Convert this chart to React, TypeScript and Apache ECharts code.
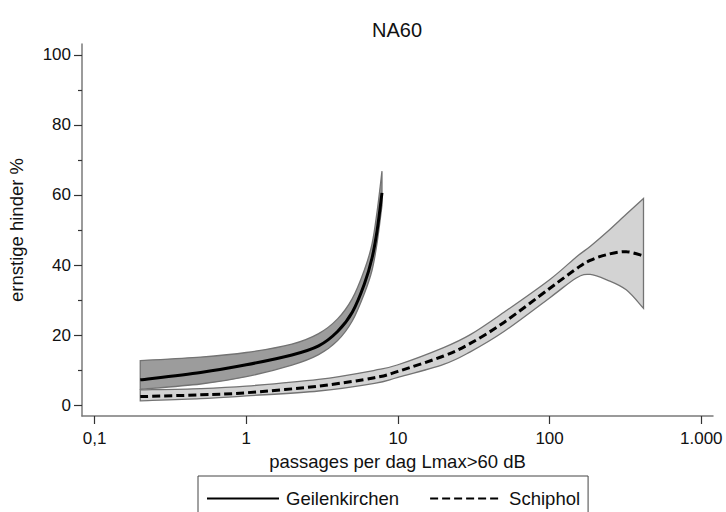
import React, { useEffect, useRef } from "react";
import * as echarts from "echarts";

const FONT = "'Liberation Sans', Arial, Helvetica, sans-serif";

const titleText = "NA60";
const xAxisName = "passages per dag Lmax>60 dB";
const yAxisName = "ernstige hinder %";

const xTicks = [0.1, 1, 10, 100, 1000];
const xTickLabels = ["0,1", "1", "10", "100", "1.000"];
const yTicks = [0, 20, 40, 60, 80, 100];
const yMinorTicks = [10, 30, 50, 70, 90];

const geilName = "Geilenkirchen";
const geilX = [0.2, 0.5, 1, 2, 3, 4, 5, 6, 6.75, 7.3, 7.85];
const geilFit = [7.2, 9.3, 11.5, 14.3, 16.9, 21.0, 26.5, 34.5, 42.0, 50.0, 60.6];
const geilLo = [4.5, 6.0, 8.1, 11.4, 14.4, 18.4, 24.0, 31.8, 38.5, 46.5, 57.0];
const geilHi = [12.7, 13.7, 15.0, 17.4, 20.4, 24.6, 30.4, 38.5, 46.0, 55.5, 66.8];

const schName = "Schiphol";
const schX = [0.2, 0.5, 1, 3, 7, 10, 20, 30, 50, 100, 150, 185, 240, 320, 416];
const schFit = [2.4, 2.9, 3.5, 5.4, 7.8, 9.6, 14.0, 17.6, 23.6, 33.3, 38.9, 41.3, 43.0, 43.8, 42.6];
const schLo = [1.2, 1.8, 2.6, 4.0, 6.2, 7.9, 11.6, 15.2, 21.0, 30.6, 36.3, 37.3, 35.7, 32.9, 27.6];
const schHi = [4.3, 4.7, 5.4, 7.3, 9.9, 11.5, 16.4, 20.1, 26.5, 35.8, 42.3, 45.3, 49.5, 54.5, 59.0];

const BORDER = "#737373";

type Pt = number[];

// Catmull-Rom spline through pixel points (rendering only)
function splinePath(pts: Pt[], moveFirst: boolean) {
  let d = moveFirst ? `M${pts[0][0]},${pts[0][1]}` : `L${pts[0][0]},${pts[0][1]}`;
  const n = pts.length;
  for (let i = 0; i < n - 1; i++) {
    const p0 = pts[Math.max(0, i - 1)];
    const p1 = pts[i];
    const p2 = pts[i + 1];
    const p3 = pts[Math.min(n - 1, i + 2)];
    const c1x = p1[0] + (p2[0] - p0[0]) / 6;
    const c1y = p1[1] + (p2[1] - p0[1]) / 6;
    const c2x = p2[0] - (p3[0] - p1[0]) / 6;
    const c2y = p2[1] - (p3[1] - p1[1]) / 6;
    d += ` C${c1x},${c1y} ${c2x},${c2y} ${p2[0]},${p2[1]}`;
  }
  return d;
}

function bandSeries(id: string, xs: number[], lo: number[], hi: number[], fill: string, z: number) {
  return {
    type: "custom",
    name: id + "_band",
    silent: true,
    z,
    data: xs.map((x, i) => [x, lo[i], hi[i]]),
    encode: { x: 0, y: [1, 2] },
    renderItem: (params: any, api: any) => {
      if (params.dataIndex !== 0) return null;
      const up = xs.map((x, i) => api.coord([x, hi[i]]));
      const dn = xs.map((x, i) => api.coord([x, lo[i]])).reverse();
      const d = splinePath(up, true) + " " + splinePath(dn, false) + " Z";
      return {
        type: "path",
        shape: { pathData: d },
        style: { fill, stroke: BORDER, lineWidth: 1.3 },
      };
    },
  };
}

function lineSeries(name: string, xs: number[], ys: number[], dash: any) {
  return {
    type: "custom",
    name,
    z: 5,
    silent: true,
    data: xs.map((x, i) => [x, ys[i]]),
    encode: { x: 0, y: 1 },
    renderItem: (params: any, api: any) => {
      if (params.dataIndex !== 0) return null;
      const pts = xs.map((x, i) => api.coord([x, ys[i]]));
      return {
        type: "path",
        shape: { pathData: splinePath(pts, true) },
        style: { fill: "none", stroke: "#000", lineWidth: 3, lineDash: dash },
      };
    },
  };
}

function xLabel(v: number) {
  let best = 0;
  let bestD = Infinity;
  xTicks.forEach((t, i) => {
    const d = Math.abs(Math.log10(v) - Math.log10(t));
    if (d < bestD) {
      bestD = d;
      best = i;
    }
  });
  return xTickLabels[best];
}

export default function App() {
  const ref = useRef<HTMLDivElement>(null);
  useEffect(() => {
    if (!ref.current) return;
    const chart = echarts.init(ref.current, null, { renderer: "svg" });
    const option: any = {
      animation: false,
      backgroundColor: "#ffffff",
      textStyle: { fontFamily: FONT },
      title: {
        text: titleText,
        left: 397,
        top: 20,
        textAlign: "center",
        padding: 0,
        textStyle: { fontSize: 20, fontWeight: "normal", color: "#111", fontFamily: FONT },
      },
      grid: { left: 82, right: 13, top: 44, bottom: 96, containLabel: false, outerBoundsMode: "none" },
      legend: {
        data: [geilName, schName],
        left: 198,
        top: 476,
        orient: "horizontal",
        itemWidth: 72,
        itemHeight: 2,
        itemGap: 30,
        padding: [13, 8, 24, 8],
        borderColor: "#444",
        borderWidth: 1,
        backgroundColor: "#fff",
        selectedMode: false,
        itemStyle: { opacity: 0 },
        lineStyle: { width: 2 },
        textStyle: { fontSize: 18.5, color: "#111", fontFamily: FONT, padding: [0, 0, 0, 2] },
      },
      xAxis: {
        type: "log",
        logBase: 10,
        min: 0.0826,
        max: 1195,
        name: xAxisName,
        nameLocation: "middle",
        nameGap: 33,
        nameTextStyle: { fontSize: 18.5, color: "#111", fontFamily: FONT },
        axisLine: { show: true, onZero: false, lineStyle: { color: "#7a7a7a", width: 1.5 } },
        axisTick: { show: true, customValues: xTicks, length: 8, lineStyle: { color: "#333", width: 1.2 } },
        axisLabel: {
          show: true,
          customValues: xTicks,
          formatter: (v: number) => xLabel(v),
          margin: 14,
          fontSize: 17,
          color: "#111",
          fontFamily: FONT,
        },
        splitLine: { show: false },
        minorTick: { show: false },
      },
      yAxis: [
        {
          type: "value",
          position: "left",
          min: -3.14,
          max: 103.14,
          name: yAxisName,
          nameLocation: "middle",
          nameGap: 56,
          nameTextStyle: { fontSize: 18.5, color: "#111", fontFamily: FONT },
          axisLine: { show: true, onZero: false, lineStyle: { color: "#7a7a7a", width: 1.5 } },
          axisTick: { show: true, customValues: yTicks, length: 8, lineStyle: { color: "#333", width: 1.2 } },
          axisLabel: { show: true, customValues: yTicks, margin: 11, fontSize: 17, color: "#111", fontFamily: FONT },
          splitLine: { show: false },
        },
        {
          type: "value",
          position: "left",
          min: -3.14,
          max: 103.14,
          axisLine: { show: false, onZero: false },
          axisTick: { show: true, customValues: yMinorTicks, length: 4, lineStyle: { color: "#333", width: 1.2 } },
          axisLabel: { show: false },
          splitLine: { show: false },
        },
      ],
      series: [
        bandSeries("sch", schX, schLo, schHi, "#d3d3d3", 2),
        bandSeries("geil", geilX, geilLo, geilHi, "#9c9c9c", 3),
        lineSeries("sch_fit", schX, schFit, [8, 4]),
        lineSeries("geil_fit", geilX, geilFit, null),
        {
          name: geilName,
          type: "line",
          symbol: "none",
          data: [],
          lineStyle: { color: "#000", width: 3 },
          itemStyle: { color: "#000" },
        },
        {
          name: schName,
          type: "line",
          symbol: "none",
          data: [],
          lineStyle: { color: "#000", width: 3, type: [8, 4] },
          itemStyle: { color: "#000" },
        },
      ],
    };
    chart.setOption(option);
    return () => chart.dispose();
  }, []);
  return (
    <div
      ref={ref}
      style={{ position: "fixed", left: 0, top: 0, width: 726, height: 512, background: "#fff" }}
    />
  );
}
